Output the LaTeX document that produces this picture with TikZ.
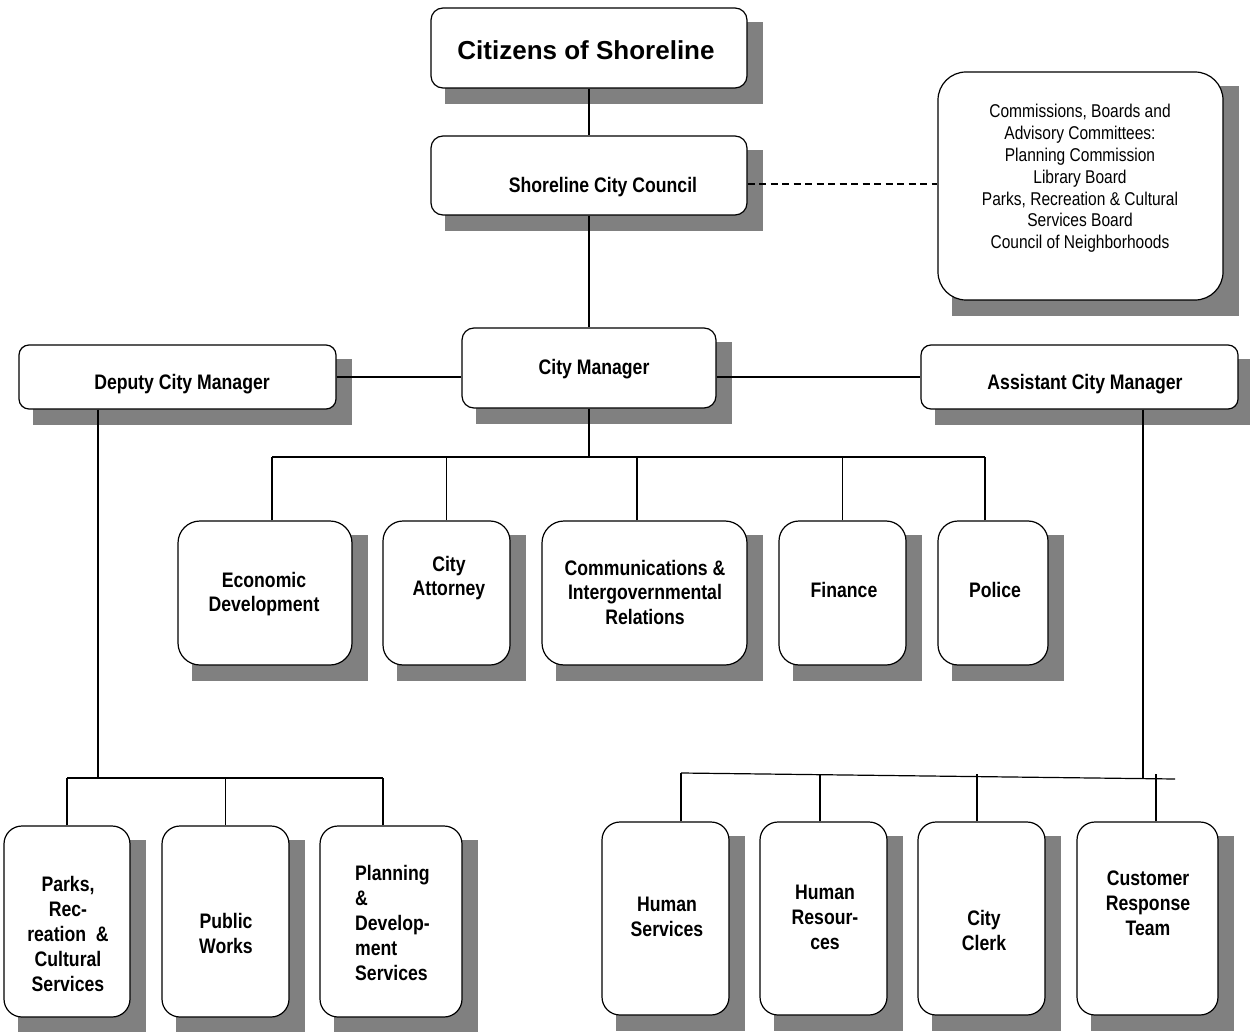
\documentclass[tikz,border=0pt]{standalone}
\usepackage{fontspec}
\setmainfont{Liberation Sans}[FakeStretch=0.84]
\newfontfamily\widefont{Liberation Sans}
\usetikzlibrary{fit,backgrounds}
\definecolor{shadowgray}{HTML}{808080}
\tikzset{
  obox/.style={draw=black, line width=1.2pt, fill=white, inner sep=0pt},
  link/.style={draw=black, line width=1.2pt},
  lbl/.style={align=center, inner sep=0pt, yshift=-2pt, font=\fontsize{21}{24.5}\selectfont\bfseries},
  lblb/.style={align=center, inner sep=0pt, yshift=-1.5pt, font=\fontsize{21}{25}\selectfont\bfseries},
  sm/.style={align=center, inner sep=0pt, yshift=-1.5pt, font=\fontsize{18.5}{21.8}\selectfont},
}
\newcommand\orgbox[6]{%
  \node[obox, rounded corners=#6, fit={(#2,#3) (#4,#5)}] (#1) {};
  \begin{scope}[on background layer]
    \fill[shadowgray] ([xshift=15pt,yshift=-15pt]#1.south west) rectangle ([xshift=15pt,yshift=-15pt]#1.north east);
  \end{scope}}
\begin{document}
\begin{tikzpicture}[x=1pt,y=-1pt]
\useasboundingbox (0,0) rectangle (1250,1032);
% top
\orgbox{cit}{431}{8}{747}{88}{12pt}
\orgbox{council}{431}{136}{747}{215}{12pt}
\orgbox{comm}{938}{72}{1223}{300}{28pt}
\orgbox{cm}{462}{328}{716}{408}{12pt}
\orgbox{dep}{19}{345}{336}{409}{10pt}
\orgbox{asst}{921}{345}{1238}{409}{10pt}
% row 2
\orgbox{econ}{178}{521}{352}{665}{22pt}
\orgbox{atty}{383}{521}{510}{665}{20pt}
\orgbox{cir}{542}{521}{747}{665}{22pt}
\orgbox{fin}{779}{521}{906}{665}{20pt}
\orgbox{pol}{938}{521}{1048}{665}{20pt}
% row 3 left
\orgbox{parks}{4}{826}{130}{1017}{18pt}
\orgbox{pw}{162}{826}{289}{1017}{18pt}
\orgbox{plan}{320}{826}{462}{1017}{18pt}
% row 3 right
\orgbox{hs}{602}{822}{729}{1015}{18pt}
\orgbox{hr}{760}{822}{887}{1015}{18pt}
\orgbox{cc}{918}{822}{1045}{1015}{18pt}
\orgbox{crt}{1077}{822}{1218}{1015}{18pt}

% texts
\node[inner sep=0pt, font=\widefont\fontsize{26}{30}\selectfont\bfseries] (cit-t) at (586,50) {Citizens of Shoreline};
\node[lbl] (council-t) at (603,185) {Shoreline City Council};
\node[sm] (comm-t) at (1080,177) {Commissions, Boards and\\Advisory Committees:\\Planning Commission\\Library Board\\Parks, Recreation \& Cultural\\Services Board\\Council of Neighborhoods};
\node[lbl] (dep-t) at (182,382) {Deputy City Manager};
\node[lbl] (cm-t) at (594,367) {City Manager};
\node[lbl] (asst-t) at (1085,382) {Assistant City Manager};
\node[lbl] (econ-t) at (264,592) {Economic\\Development};
\node[lbl] (atty-t) at (449,576) {City\\Attorney};
\node[lbl] (cir-t) at (645,590) {Communications \&\\Intergovernmental\\Relations};
\node[lbl] (fin-t) at (844,588) {Finance};
\node[lbl] (pol-t) at (995,588) {Police};
\node[lblb] (parks-t) at (68,932) {Parks,\\Rec-\\reation \ \&\\Cultural\\Services};
\node[lblb] (pw-t) at (226,932) {Public\\Works};
\node[lblb, align=left, anchor=west] (plan-t) at (355,921) {Planning\\\&\\Develop-\\ment\\Services};
\node[lblb] (hs-t) at (667,915) {Human\\Services};
\node[lblb] (hr-t) at (825,916) {Human\\Resour-\\ces};
\node[lblb] (cc-t) at (984,929) {City\\Clerk};
\node[lblb] (crt-t) at (1148,902) {Customer\\Response\\Team};

% connectors
\draw[link] (cit.south) -- (council.north);
\draw[link] (council.south) -- (cm.north);
\draw[link, dash pattern=on 7pt off 4.5pt] ([yshift=-8.5pt]council.east) -- ([yshift=-8.5pt]council.east -| comm.west);
\draw[link] (dep.east) -- (dep.east -| cm.west);
\draw[link] (cm.east |- asst.west) -- (asst.west);
% city manager bus
\coordinate (b1) at (589,457);
\draw[link] (cm.south) -- (b1);
\draw[link] (b1 -| 272,0) -- (b1 -| 985,0);
\draw[link] (econ.north -| 272,0) -- (b1 -| 272,0);
\draw[link] (atty.north) -- (b1 -| atty.north);
\draw[link] (cir.north -| 637,0) -- (b1 -| 637,0);
\draw[link] (fin.north) -- (b1 -| fin.north);
\draw[link] (pol.north -| 985,0) -- (b1 -| 985,0);
% deputy bus
\coordinate (dl) at (98,778);
\draw[link] (dep.south -| dl) -- (dl);
\draw[link] (dl -| parks.north) -- (dl -| 383,0);
\draw[link] (parks.north) -- (dl -| parks.north);
\draw[link] (pw.north) -- (dl -| pw.north);
\draw[link] (plan.north -| 383,0) -- (dl -| 383,0);
% assistant bus
\coordinate (bl) at (681,773);
\coordinate (br) at (1175,779);
\coordinate (dr) at (1143,779);
\draw[link] (asst.south -| dr) -- (dr);
\draw[link] (bl) -- (br);
\draw[link] (hs.north -| bl) -- (bl);
\draw[link] (hr.north -| 820,0) -- (820,774);
\draw[link] (cc.north -| 977,0) -- (977,774);
\draw[link] (crt.north -| 1156,0) -- (1156,774);
\end{tikzpicture}
\end{document}
